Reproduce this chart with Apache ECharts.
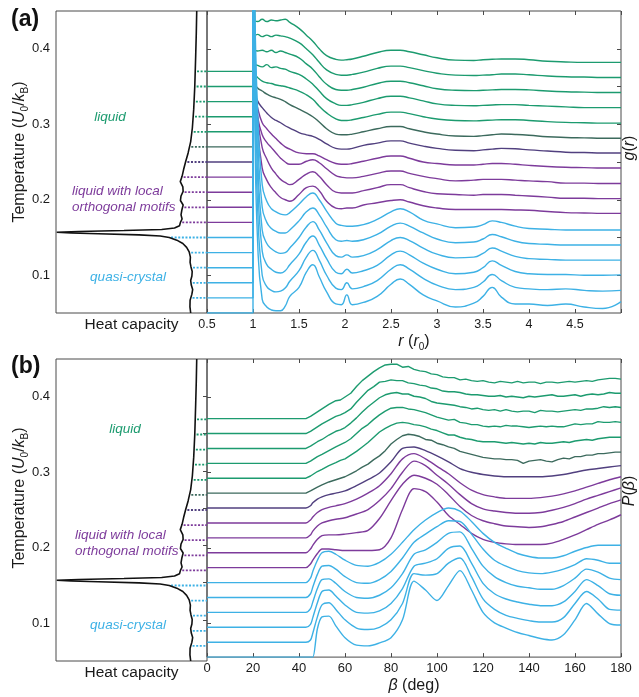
<!DOCTYPE html>
<html>
<head>
<meta charset="utf-8">
<script src="https://cdn.jsdelivr.net/npm/echarts@6/dist/echarts.min.js"></script>
<style>
  html, body { margin: 0; padding: 0; background: #ffffff; }
  #chart { width: 639px; height: 697px; }
</style>
</head>
<body>
<div id="chart"></div>
<script>
// ---------- simulation temperatures (U0/kB), one curve each ----------
const temperatures = [0.05, 0.07, 0.09, 0.11, 0.13, 0.15, 0.17, 0.19, 0.21, 0.23, 0.25, 0.27, 0.29, 0.31, 0.33, 0.35, 0.37];

// ---------- heat capacity vs temperature (arbitrary units) ----------
const hcTemp = [0.05, 0.058, 0.067, 0.075, 0.081, 0.087, 0.093, 0.099, 0.105, 0.111, 0.117, 0.124, 0.131, 0.137, 0.142, 0.1465, 0.15, 0.152, 0.1535, 0.155, 0.156, 0.157, 0.158, 0.1592, 0.1605, 0.1625, 0.1655, 0.17, 0.1745, 0.18, 0.186, 0.193, 0.199, 0.205, 0.211, 0.217, 0.224, 0.231, 0.24, 0.25, 0.262, 0.277, 0.295, 0.32, 0.35, 0.39, 0.42, 0.45];
const hcValue = [0.108, 0.113, 0.112, 0.100, 0.095, 0.104, 0.108, 0.100, 0.098, 0.106, 0.112, 0.110, 0.118, 0.135, 0.16, 0.2, 0.25, 0.31, 0.45, 0.72, 0.9, 0.995, 0.85, 0.55, 0.3, 0.215, 0.182, 0.176, 0.165, 0.172, 0.167, 0.158, 0.176, 0.172, 0.158, 0.16, 0.177, 0.165, 0.155, 0.142, 0.125, 0.108, 0.097, 0.088, 0.081, 0.075, 0.071, 0.068];

// ---------- pair distribution g(r), r in units of r0 ----------
const rGrid = [1.0, 1.02, 1.05, 1.1, 1.15, 1.2, 1.25, 1.3, 1.35, 1.4, 1.5, 1.58, 1.65, 1.72, 1.8, 1.9, 1.96, 2.02, 2.08, 2.2, 2.35, 2.5, 2.6, 2.7, 2.85, 3.0, 3.2, 3.4, 3.5, 3.6, 3.7, 3.85, 4.0, 4.2, 4.4, 4.6, 4.8, 5.0];
const gT05 = [45, 25, 9.5, 1.8, 0.8, 0.4, 0.3, 0.3, 0.9, 2.2, 3.4, 5.4, 6.4, 4.8, 2.8, 1.2, 1.1, 2.4, 1.1, 1.4, 2.2, 3.8, 4.5, 3.8, 2.4, 1.6, 0.8, 1.3, 2.2, 3.4, 2.1, 1.2, 1.2, 1.0, 1.2, 0.8, 0.6, 1.5];
const gT07 = [45, 27, 12, 3.0, 1.5, 1.0, 0.8, 0.9, 1.3, 2.2, 3.6, 5.4, 6.3, 5.0, 3.0, 1.3, 1.1, 2.0, 1.2, 1.5, 2.3, 3.8, 4.4, 3.8, 2.6, 1.7, 1.1, 1.4, 2.1, 3.1, 2.3, 1.4, 1.2, 1.1, 1.2, 1.0, 0.9, 1.0];
const gT09 = [45, 29, 14, 4.2, 2.4, 1.8, 1.4, 1.3, 1.6, 2.4, 3.8, 5.4, 6.2, 5.0, 3.2, 1.4, 1.2, 1.8, 1.3, 1.6, 2.3, 3.7, 4.2, 3.7, 2.6, 1.8, 1.2, 1.4, 2.0, 2.9, 2.3, 1.5, 1.2, 1.1, 1.1, 1.0, 1.0, 1.05];
const gT11 = [45, 30, 15, 5.0, 3.2, 2.5, 2.1, 1.9, 2.0, 2.6, 4.0, 5.4, 6.1, 5.0, 3.3, 1.6, 1.4, 1.7, 1.4, 1.6, 2.4, 3.6, 4.0, 3.6, 2.6, 1.8, 1.3, 1.4, 1.9, 2.6, 2.2, 1.5, 1.2, 1.1, 1.0, 1.0, 1.0, 1.0];
const gT13 = [45, 30, 16, 6.0, 4.0, 3.2, 2.8, 2.6, 2.6, 3.0, 4.2, 5.4, 5.9, 5.0, 3.4, 1.7, 1.5, 1.6, 1.5, 1.7, 2.4, 3.5, 3.9, 3.5, 2.6, 1.8, 1.3, 1.4, 1.8, 2.4, 2.1, 1.5, 1.2, 1.1, 1.0, 1.0, 1.0, 1.0];
const gT15 = [45, 30, 17, 7.0, 4.8, 3.8, 3.4, 3.1, 3.0, 3.3, 4.4, 5.4, 5.9, 5.0, 3.5, 1.9, 1.6, 1.5, 1.5, 1.7, 2.4, 3.4, 3.8, 3.4, 2.3, 1.8, 1.3, 1.4, 1.7, 2.2, 2.0, 1.5, 1.2, 1.1, 1.0, 1.0, 1.0, 1.0];
const gT17 = [45, 22, 13, 7.2, 5.6, 4.6, 3.9, 3.3, 3.0, 2.8, 3.7, 4.6, 4.8, 4.2, 2.8, 1.9, 1.8, 1.9, 1.9, 2.3, 2.6, 2.9, 3.0, 2.7, 2.2, 1.9, 1.7, 1.7, 1.7, 1.7, 1.7, 1.65, 1.6, 1.45, 1.3, 1.25, 1.2, 1.2];
const gT19 = [45, 18, 12, 7.9, 6.4, 5.2, 4.4, 3.7, 3.3, 3.0, 3.7, 4.4, 4.7, 4.1, 3.0, 2.0, 1.9, 1.9, 1.9, 2.2, 2.6, 3.0, 3.0, 2.6, 2.1, 1.8, 1.7, 1.6, 1.7, 1.7, 1.7, 1.6, 1.5, 1.35, 1.2, 1.2, 1.15, 1.15];
const gT21 = [45, 14, 10, 7.6, 6.6, 5.9, 5.2, 4.5, 4.0, 3.7, 3.7, 4.1, 4.3, 3.9, 3.1, 2.2, 2.0, 1.9, 1.9, 2.1, 2.5, 2.8, 2.8, 2.5, 2.1, 1.8, 1.5, 1.6, 1.7, 1.7, 1.7, 1.6, 1.5, 1.4, 1.2, 1.2, 1.15, 1.15];
const gT23 = [45, 11, 9.2, 7.2, 6.4, 5.7, 5.1, 4.5, 4.0, 3.7, 3.2, 3.1, 3.1, 2.8, 2.3, 1.8, 1.7, 1.7, 1.8, 2.1, 2.5, 2.8, 2.8, 2.5, 2.0, 1.8, 1.6, 1.6, 1.7, 1.8, 1.8, 1.7, 1.55, 1.4, 1.3, 1.25, 1.2, 1.2];
const gT25 = [45, 9.4, 8.1, 7.2, 6.5, 5.9, 5.5, 5.2, 4.8, 4.5, 3.9, 3.6, 3.4, 3.0, 2.4, 1.8, 1.7, 1.7, 1.8, 2.2, 2.5, 2.8, 2.8, 2.5, 2.1, 1.8, 1.55, 1.5, 1.6, 1.7, 1.8, 1.75, 1.6, 1.45, 1.3, 1.25, 1.2, 1.2];
const gT27 = [45, 8.5, 7.8, 7.4, 7.0, 6.7, 6.5, 6.3, 6.0, 5.6, 5.0, 4.5, 4.0, 3.3, 2.4, 1.7, 1.6, 1.6, 1.7, 2.0, 2.4, 2.7, 2.7, 2.4, 2.0, 1.7, 1.45, 1.4, 1.5, 1.6, 1.7, 1.65, 1.55, 1.35, 1.25, 1.2, 1.15, 1.15];
const gT29 = [45, 7.6, 7.2, 6.7, 6.5, 6.4, 6.2, 6.1, 6.0, 5.8, 5.4, 4.9, 4.3, 3.4, 2.5, 1.7, 1.5, 1.5, 1.6, 1.9, 2.3, 2.6, 2.6, 2.4, 2.0, 1.7, 1.5, 1.45, 1.5, 1.55, 1.6, 1.6, 1.5, 1.35, 1.25, 1.2, 1.15, 1.15];
const gT31 = [45, 7.0, 6.8, 6.6, 6.9, 6.5, 6.6, 6.4, 6.3, 6.0, 5.6, 5.0, 4.3, 3.4, 2.4, 1.7, 1.5, 1.5, 1.6, 1.9, 2.4, 2.7, 2.7, 2.5, 2.1, 1.7, 1.5, 1.45, 1.5, 1.55, 1.6, 1.6, 1.5, 1.4, 1.3, 1.2, 1.2, 1.2];
const gT33 = [45, 6.9, 6.7, 6.8, 6.6, 6.8, 6.5, 6.7, 6.5, 6.3, 5.8, 5.0, 4.3, 3.3, 2.3, 1.6, 1.5, 1.5, 1.6, 1.9, 2.4, 2.7, 2.7, 2.5, 2.1, 1.7, 1.5, 1.45, 1.5, 1.55, 1.6, 1.6, 1.55, 1.4, 1.3, 1.25, 1.2, 1.2];
const gT35 = [45, 6.7, 6.9, 6.6, 6.8, 6.6, 6.8, 6.7, 6.6, 6.4, 5.8, 5.0, 4.2, 3.2, 2.2, 1.6, 1.5, 1.5, 1.6, 1.9, 2.4, 2.7, 2.7, 2.5, 2.1, 1.75, 1.5, 1.45, 1.5, 1.55, 1.65, 1.65, 1.55, 1.4, 1.3, 1.25, 1.2, 1.2];
const gT37 = [45, 6.7, 6.6, 6.9, 6.6, 6.8, 6.7, 6.8, 6.9, 6.5, 5.7, 4.8, 4.0, 3.0, 2.1, 1.6, 1.5, 1.55, 1.65, 2.0, 2.5, 2.8, 2.8, 2.6, 2.2, 1.8, 1.5, 1.45, 1.55, 1.6, 1.65, 1.65, 1.55, 1.35, 1.25, 1.2, 1.2, 1.2];

// ---------- bond-angle distribution P(beta), beta in degrees ----------
// crystal / orthogonal-motif states, sampled every 5 deg past the onset
const betaGrid = [0, 43, 45, 46, 48, 50, 53, 56, 60, 65, 70, 75, 80, 85, 90, 95, 100, 105, 110, 115, 120, 125, 130, 135, 140, 145, 150, 155, 160, 165, 170, 175, 180];
const pT05 = [0, 0, 0, 0, 3.8, 5.4, 5.5, 4.2, 2.6, 1.6, 1.5, 1.9, 2.6, 5.0, 10.2, 9.0, 7.6, 9.6, 11.6, 9.0, 6.0, 4.6, 3.9, 3.3, 2.9, 2.5, 2.3, 3.0, 5.0, 7.2, 5.8, 4.5, 4.3];
const pT07 = [0, 0, 0.3, 1.2, 3.4, 5.0, 5.3, 4.4, 3.0, 1.9, 1.7, 2.0, 3.0, 5.2, 9.2, 9.0, 9.2, 10.6, 11.3, 8.8, 5.8, 4.4, 3.6, 3.2, 2.9, 2.7, 2.7, 3.3, 5.2, 6.8, 5.8, 4.4, 4.3];
const pT09 = [0, 0, 0.4, 1.3, 3.3, 4.8, 5.0, 4.2, 3.0, 2.0, 1.9, 2.2, 3.2, 5.2, 8.2, 8.6, 9.2, 10.6, 10.9, 8.6, 5.9, 4.5, 3.8, 3.4, 3.1, 2.9, 2.9, 3.4, 4.8, 6.4, 5.6, 4.5, 4.3];
const pT11 = [0, 0, 0.5, 1.4, 3.2, 4.4, 4.5, 3.9, 2.8, 2.0, 1.9, 2.3, 3.3, 5.2, 7.8, 8.4, 9.4, 10.6, 10.8, 8.6, 6.2, 4.8, 4.0, 3.5, 3.3, 3.1, 3.1, 3.6, 4.6, 5.8, 5.4, 4.6, 4.4];
const pT13 = [0, 0, 0.5, 1.4, 3.1, 4.2, 4.3, 3.8, 2.8, 2.0, 1.9, 2.4, 3.5, 5.3, 7.4, 8.5, 9.5, 10.3, 10.2, 8.5, 6.5, 5.0, 4.2, 3.6, 3.3, 3.2, 3.4, 3.8, 4.4, 5.2, 5.0, 4.6, 4.6];
const pT15 = [0, 0, 0.6, 1.5, 3.0, 4.0, 4.2, 3.8, 3.0, 2.3, 2.2, 2.7, 3.8, 5.4, 7.1, 8.4, 9.4, 10.0, 9.6, 8.2, 6.6, 5.4, 4.6, 3.9, 3.5, 3.3, 3.3, 3.6, 4.2, 4.7, 5.0, 5.0, 5.0];
const pT17 = [0, 0, 0.5, 1.0, 1.9, 2.5, 2.5, 2.4, 2.3, 2.3, 2.3, 2.4, 4.0, 7.8, 10.6, 10.2, 8.8, 7.0, 5.8, 4.6, 3.8, 3.4, 3.2, 3.1, 3.1, 3.1, 3.3, 3.8, 4.4, 5.1, 5.8, 6.4, 7.1];
const pT19 = [0, 0, 0.5, 1.0, 1.8, 2.3, 2.4, 2.4, 2.5, 2.7, 3.0, 4.6, 7.0, 9.2, 10.4, 10.0, 9.2, 7.8, 6.2, 5.0, 4.3, 3.9, 3.6, 3.5, 3.4, 3.5, 3.8, 4.2, 4.8, 5.4, 6.0, 6.6, 7.1];
const pT21 = [0, 0, 0.4, 0.9, 1.6, 2.0, 2.3, 2.5, 2.7, 3.2, 3.8, 5.0, 6.6, 8.8, 10.3, 9.7, 8.4, 7.2, 5.8, 4.6, 3.9, 3.6, 3.4, 3.3, 3.3, 3.4, 3.7, 4.1, 4.6, 5.2, 5.7, 6.2, 6.7];
const pT23 = [0, 0, 0.4, 0.8, 1.4, 1.8, 2.1, 2.3, 2.6, 3.2, 4.0, 5.0, 6.6, 8.6, 9.3, 8.6, 7.6, 6.6, 5.4, 4.4, 3.8, 3.5, 3.3, 3.3, 3.3, 3.4, 3.6, 3.9, 4.3, 4.8, 5.3, 5.8, 6.2];
const pT25 = [0, 0, 0.3, 0.7, 1.2, 1.5, 1.8, 2.0, 2.3, 3.0, 3.8, 4.7, 6.2, 8.0, 8.2, 7.7, 7.0, 6.2, 5.3, 4.8, 4.5, 4.3, 4.2, 4.2, 4.2, 4.2, 4.3, 4.5, 4.8, 5.1, 5.3, 5.5, 5.7];
// liquid states are noisier, sampled every 2.5 deg past 60 deg
const betaFine = [0, 43, 45, 48, 50, 53, 56, 58, 60, 62.5, 65, 67.5, 70, 72.5, 75, 77.5, 80, 82.5, 85, 87.5, 90, 92.5, 95, 97.5, 100, 102.5, 105, 107.5, 110, 112.5, 115, 117.5, 120, 122.5, 125, 127.5, 130, 132.5, 135, 137.5, 140, 142.5, 145, 147.5, 150, 152.5, 155, 157.5, 160, 162.5, 165, 167.5, 170, 172.5, 175, 177.5, 180];
const pT27 = [0, 0, 0.3, 0.8, 1.1, 1.5, 1.8, 2.0, 2.2, 2.6, 3.0, 3.5, 3.9, 4.5, 5.0, 5.7, 6.6, 7.2, 7.7, 7.9, 7.8, 7.6, 7.2, 7.1, 6.7, 6.5, 6.2, 6.0, 5.6, 5.4, 5.2, 5.0, 4.8, 4.7, 4.6, 4.6, 4.5, 4.5, 4.4, 4.0, 4.3, 4.4, 4.5, 4.3, 4.2, 4.5, 4.7, 4.6, 4.9, 4.9, 5.1, 5.1, 5.3, 5.3, 5.4, 5.5, 5.5];
const pT29 = [0, 0, 0.3, 0.9, 1.2, 1.7, 2.1, 2.4, 2.6, 3.1, 3.6, 4.2, 4.8, 5.5, 6.2, 6.7, 7.1, 7.4, 7.5, 7.4, 7.2, 7.1, 6.9, 6.6, 6.4, 6.1, 5.8, 5.8, 5.5, 5.3, 5.2, 5.0, 4.9, 4.9, 4.9, 4.8, 4.7, 4.8, 4.7, 4.6, 4.7, 4.6, 4.8, 4.7, 4.7, 4.8, 4.9, 4.8, 5.0, 5.1, 5.2, 5.1, 5.3, 5.4, 5.5, 5.5, 5.5];
const pT31 = [0, 0, 0.3, 0.9, 1.2, 1.7, 2.2, 2.5, 2.8, 3.3, 4.0, 4.7, 5.2, 5.9, 6.5, 7.0, 7.4, 7.5, 7.5, 7.3, 7.2, 7.0, 6.8, 6.5, 6.2, 6.0, 5.8, 5.9, 5.5, 5.4, 5.2, 5.2, 5.0, 4.9, 5.0, 4.9, 5.1, 5.0, 5.0, 4.9, 4.8, 4.9, 5.0, 4.9, 5.0, 4.9, 4.9, 5.1, 5.3, 5.2, 5.3, 5.3, 5.6, 5.5, 5.5, 5.6, 5.5];
const pT33 = [0, 0, 0.3, 0.9, 1.2, 1.8, 2.3, 2.5, 2.8, 3.4, 4.1, 4.9, 5.6, 6.2, 6.8, 7.2, 7.4, 7.5, 7.3, 7.3, 7.0, 6.9, 6.7, 6.3, 6.1, 6.0, 5.9, 5.8, 5.6, 5.5, 5.3, 5.4, 5.2, 5.1, 5.2, 5.0, 5.2, 5.0, 4.9, 5.0, 5.0, 4.8, 5.1, 5.0, 5.0, 4.9, 5.0, 5.1, 5.2, 5.1, 5.3, 5.3, 5.4, 5.6, 5.5, 5.6, 5.5];
const pT35 = [0, 0, 0.3, 0.9, 1.3, 1.8, 2.3, 2.5, 2.8, 3.3, 4.2, 5.0, 5.8, 6.3, 6.9, 7.0, 7.2, 7.1, 7.1, 6.8, 6.7, 6.5, 6.4, 6.1, 6.0, 5.7, 5.6, 5.6, 5.5, 5.3, 5.2, 5.2, 5.1, 5.0, 5.0, 5.1, 4.9, 5.0, 4.9, 4.8, 5.0, 4.9, 5.0, 5.1, 5.2, 5.0, 5.0, 5.1, 5.2, 5.0, 5.2, 5.3, 5.2, 5.3, 5.5, 5.4, 5.4];
const pT37 = [0, 0, 0.3, 0.9, 1.3, 1.9, 2.4, 2.5, 2.9, 3.4, 4.3, 5.1, 5.7, 6.3, 6.8, 7.2, 7.3, 7.3, 6.9, 7.0, 6.6, 6.4, 6.3, 6.0, 5.9, 5.6, 5.5, 5.5, 5.2, 5.3, 5.1, 5.0, 5.1, 4.9, 4.8, 5.0, 4.9, 4.8, 5.0, 4.8, 4.9, 4.9, 4.7, 4.9, 4.9, 4.8, 4.9, 5.0, 4.9, 5.0, 5.1, 5.0, 5.2, 5.3, 5.4, 5.4, 5.3];

// ---------- axis tick values ----------
const tempTicks = [0.1, 0.2, 0.3, 0.4];
const tempMinorTicks = [0.1, 0.15, 0.2, 0.25, 0.3, 0.35, 0.4];

// ---------- styling ----------
const BLUE = '#3db1e5', PURPLE = '#7d3b9b', DARK_PURPLE = '#51407f', DARK_GREEN = '#3c6a5d', GREEN = '#1c9b6f';
const curveColors = [BLUE, BLUE, BLUE, BLUE, BLUE, BLUE, PURPLE, PURPLE, PURPLE, PURPLE, DARK_PURPLE, DARK_GREEN, GREEN, GREEN, GREEN, GREEN, GREEN];
const FONT = '"Liberation Sans", Arial, Helvetica, sans-serif';
const FRAME = '#4a4a4a';
const G_UNIT = 0.01;          // one unit of g(r) or P(beta) on the temperature axis
const T_MIN = 0.05, T_MAX = 0.45;

const gCurves = [gT05, gT07, gT09, gT11, gT13, gT15, gT17, gT19, gT21, gT23, gT25, gT27, gT29, gT31, gT33, gT35, gT37];
const pCurves = [pT05, pT07, pT09, pT11, pT13, pT15, pT17, pT19, pT21, pT23, pT25, pT27, pT29, pT31, pT33, pT35, pT37];
const pGrids = pCurves.map(p => (p.length === betaFine.length ? betaFine : betaGrid));

// heat capacity at an arbitrary temperature (linear between samples)
function heatCapacityAt(t) {
  for (let k = 1; k < hcTemp.length; k++) {
    if (t <= hcTemp[k]) {
      const f = (t - hcTemp[k - 1]) / (hcTemp[k] - hcTemp[k - 1]);
      return hcValue[k - 1] + f * (hcValue[k] - hcValue[k - 1]);
    }
  }
  return hcValue[hcValue.length - 1];
}

const chart = echarts.init(document.getElementById('chart'), null, { renderer: 'canvas' });

const grids = [
  { left: 56, top: 11, width: 151, height: 302 },
  { left: 207, top: 11, width: 414, height: 302 },
  { left: 56, top: 359, width: 151, height: 302 },
  { left: 207, top: 359, width: 414, height: 302 }
].map(g => Object.assign({ show: true, borderColor: FRAME, borderWidth: 1, backgroundColor: 'transparent' }, g));

const tickStyle = { inside: true, length: 4, lineStyle: { color: FRAME, width: 1 } };
const labelStyle = { color: '#1a1a1a', fontSize: 12.5, fontFamily: FONT };

function hcXAxis(gridIndex) {
  return {
    gridIndex, type: 'value', min: 0, max: 1, inverse: true,
    axisLine: { show: false }, axisTick: { show: false }, axisLabel: { show: false }, splitLine: { show: false },
    name: 'Heat capacity', nameLocation: 'middle', nameGap: 4,
    nameTextStyle: { fontSize: 15.5, fontFamily: FONT, color: '#1a1a1a', verticalAlign: 'top' }
  };
}
function mirrorXAxis(gridIndex, min, max, interval) {
  return {
    gridIndex, type: 'value', position: 'top', min, max, interval,
    axisLine: { show: false }, axisTick: tickStyle, axisLabel: { show: false }, splitLine: { show: false }
  };
}
function tempYAxis(gridIndex) {
  return {
    gridIndex, type: 'value', min: T_MIN, max: T_MAX,
    axisLine: { show: false }, splitLine: { show: false },
    axisTick: Object.assign({ customValues: tempTicks }, tickStyle),
    axisLabel: Object.assign({ customValues: tempTicks, margin: 6, formatter: v => v.toFixed(1) }, labelStyle, { fontSize: 13 })
  };
}
function rightYAxis(gridIndex) {
  return {
    gridIndex, type: 'value', position: 'right', min: T_MIN, max: T_MAX,
    axisLine: { show: false }, splitLine: { show: false }, axisLabel: { show: false },
    axisTick: Object.assign({ customValues: tempMinorTicks }, tickStyle)
  };
}

const nameRich = {
  i: { fontStyle: 'italic', fontSize: 16, fontFamily: FONT, color: '#1a1a1a' },
  n: { fontSize: 16, fontFamily: FONT, color: '#1a1a1a' },
  s: { fontSize: 10, fontFamily: FONT, color: '#1a1a1a', verticalAlign: 'bottom', lineHeight: 10 }
};

const xAxis = [
  hcXAxis(0),
  {
    gridIndex: 1, type: 'value', min: 0.5, max: 5, interval: 0.5,
    axisLine: { show: false }, splitLine: { show: false }, axisTick: tickStyle,
    axisLabel: Object.assign({ margin: 5, formatter: v => (v === 5 ? '' : String(v)) }, labelStyle),
    name: '{i|r}{n| (}{i|r}{s|0}{n|)}', nameLocation: 'middle', nameGap: 15,
    nameTextStyle: { rich: nameRich, verticalAlign: 'top', lineHeight: 20 }
  },
  mirrorXAxis(1, 0.5, 5, 0.5),
  hcXAxis(2),
  {
    gridIndex: 3, type: 'value', min: 0, max: 180, interval: 20,
    axisLine: { show: false }, splitLine: { show: false }, axisTick: tickStyle,
    axisLabel: Object.assign({ margin: 5 }, labelStyle, { fontSize: 13 }),
    name: '{i|β}{n| (deg)}', nameLocation: 'middle', nameGap: 17,
    nameTextStyle: { rich: nameRich, verticalAlign: 'top', lineHeight: 20 }
  },
  mirrorXAxis(3, 0, 180, 20)
];

const yAxis = [tempYAxis(0), rightYAxis(1), tempYAxis(2), rightYAxis(3)];

const series = [];
function addLine(opts) {
  series.push(Object.assign({
    type: 'line', symbol: 'none', showSymbol: false, silent: true, animation: false,
    emphasis: { disabled: true }, clip: true
  }, opts));
}

// panel index 0 -> g(r), panel index 1 -> P(beta)
[0, 1].forEach(panel => {
  const hcX = panel === 0 ? 0 : 3, hcY = panel === 0 ? 0 : 2;
  const cX = panel === 0 ? 1 : 4, cY = panel === 0 ? 1 : 3;

  // dotted guides from the heat-capacity curve to each simulated temperature
  temperatures.forEach((t, i) => {
    if (t <= T_MIN) return;
    addLine({
      xAxisIndex: hcX, yAxisIndex: hcY, z: 2,
      data: [[heatCapacityAt(t) - 0.012, t], [0, t]],
      lineStyle: { color: curveColors[i], width: 1.8, type: [2, 1.6] }
    });
  });

  // heat capacity
  addLine({
    xAxisIndex: hcX, yAxisIndex: hcY, z: 4,
    data: hcTemp.map((t, k) => [hcValue[k], t]),
    lineStyle: { color: '#111111', width: 1.6 }
  });

  // offset distributions, hottest first so cooler curves sit on top
  for (let i = temperatures.length - 1; i >= 0; i--) {
    const t = temperatures[i];
    const color = curveColors[i];
    if (panel === 0) {
      const g = gCurves[i];
      // hard-core region r < r0 (g = 0), then the contact rise at r0
      addLine({
        xAxisIndex: cX, yAxisIndex: cY, z: 3,
        data: [[0.5, t], [rGrid[0], t], [rGrid[0], t + G_UNIT * g[0]]],
        lineStyle: { color, width: 1.4 }
      });
      addLine({
        xAxisIndex: cX, yAxisIndex: cY, z: 3,
        smooth: 0.5,
        data: rGrid.map((r, k) => [r, t + G_UNIT * g[k]]),
        lineStyle: { color, width: 1.4 }
      });
    } else {
      const p = pCurves[i];
      const grid = pGrids[i];
      addLine({
        xAxisIndex: cX, yAxisIndex: cY, z: 3,
        smooth: grid === betaGrid ? 0.3 : false,
        data: grid.map((b, k) => [b, t + G_UNIT * p[k]]),
        lineStyle: { color, width: 1.4 }
      });
    }
  }
});

// ---------- text ----------
const annRich = {
  s: { fontSize: 10, fontFamily: FONT, fill: '#1a1a1a', verticalAlign: 'bottom', lineHeight: 10 },
  i: { fontSize: 16, fontFamily: FONT, fontStyle: 'italic', fill: '#1a1a1a', lineHeight: 20 },
  n: { fontSize: 16, fontFamily: FONT, fill: '#1a1a1a', lineHeight: 20 }
};
function vText(x, y, text) {
  return {
    type: 'text', x, y, rotation: Math.PI / 2, silent: true,
    style: { text, rich: annRich, align: 'center', verticalAlign: 'middle', fill: '#1a1a1a' }
  };
}
function phaseText(x, y, text, color, align) {
  return {
    type: 'text', x, y, silent: true,
    style: {
      text, fill: color, fontSize: 13.5, fontStyle: 'italic', fontFamily: FONT,
      align: align || 'left', verticalAlign: 'middle'
    }
  };
}
function panelTag(x, y, text) {
  return {
    type: 'text', x, y, silent: true,
    style: { text, fill: '#111', fontSize: 23, fontWeight: 'bold', fontFamily: FONT, align: 'left', verticalAlign: 'top' }
  };
}

const graphic = [
  panelTag(11, 8, '(a)'),
  panelTag(11, 355, '(b)'),
  vText(20, 152, '{n|Temperature (}{i|U}{s|0}{n|/}{i|k}{s|B}{n|)}'),
  vText(20, 498, '{n|Temperature (}{i|U}{s|0}{n|/}{i|k}{s|B}{n|)}'),
  vText(630, 148, '{i|g}{n|(}{i|r}{n|)}'),
  vText(630, 491, '{i|P}{n|(}{i|β}{n|)}'),
  phaseText(110, 117, 'liquid', GREEN, 'center'),
  phaseText(72, 191, 'liquid with local', PURPLE),
  phaseText(72, 207, 'orthogonal motifs', PURPLE),
  phaseText(128, 277, 'quasi-crystal', BLUE, 'center'),
  phaseText(125, 429, 'liquid', GREEN, 'center'),
  phaseText(75, 535, 'liquid with local', PURPLE),
  phaseText(75, 551, 'orthogonal motifs', PURPLE),
  phaseText(128, 625, 'quasi-crystal', BLUE, 'center')
];

chart.setOption({
  animation: false,
  backgroundColor: '#ffffff',
  textStyle: { fontFamily: FONT },
  grid: grids,
  xAxis,
  yAxis,
  series,
  graphic
});
</script>
</body>
</html>
